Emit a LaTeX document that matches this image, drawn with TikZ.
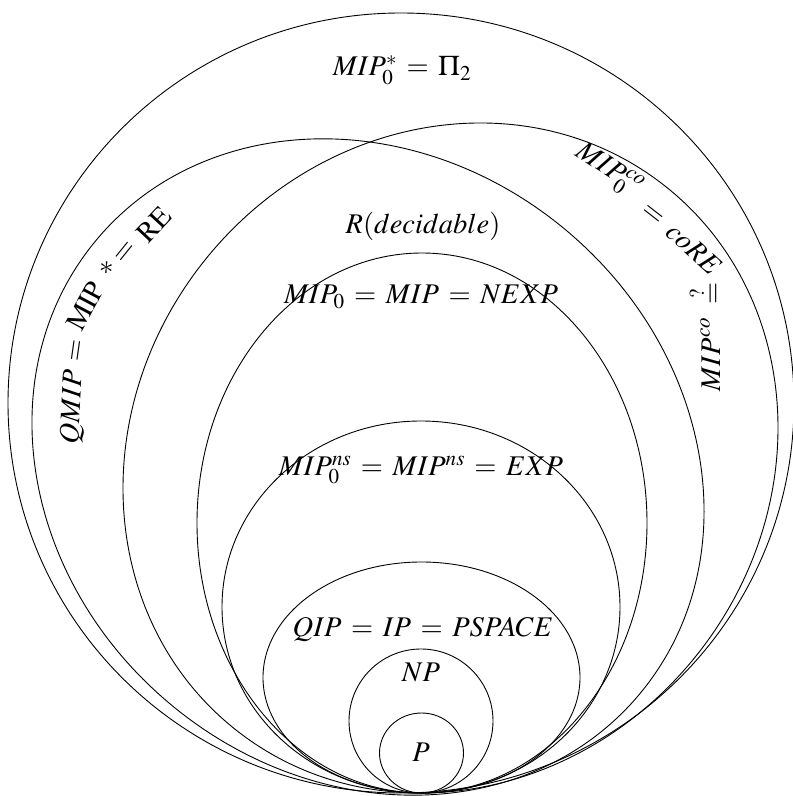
\documentclass[tikz,border=0pt]{standalone}
\usepackage{mathptmx}
\newcommand{\myeq}{\mathrel{\mskip\thinmuskip=\mskip\thinmuskip}}
\begin{document}
\begin{tikzpicture}[x=1pt,y=1pt,
  set/.style={draw=black, line width=0.9pt},
  lbl/.style={inner sep=0pt, font=\fontsize{28.5}{33}\selectfont}]
\useasboundingbox (0,0) rectangle (793,796);
% classes
\draw[set] (401,393) ellipse [x radius=393, y radius=390];
\draw[set, rotate around={-40:(368,329)}] (368,329) ellipse [x radius=354, y radius=308.7];
\draw[set, rotate around={52:(450.5,338)}] (450.5,338) ellipse [x radius=346.4, y radius=315.4];
\draw[set] (422,273) ellipse [x radius=225, y radius=270];
\draw[set] (421,189) ellipse [x radius=199, y radius=186];
\draw[set] (421.5,118.5) ellipse [x radius=158.5, y radius=115.5];
\draw[set] (421,75) circle [radius=72];
\draw[set] (421.5,43) ellipse [x radius=42, y radius=40];
% curved label of QMIP = MIP* = RE
\node[lbl, rotate=87] (q1) at (73,389) {$QMIP$};
\node[lbl, rotate=82] (q2) at (77.5,445) {$=$};
\node[lbl, rotate=62] (q3) at (85,490) {$\mathrm{MIP}$};
\node[lbl, rotate=55] (q4) at (107,528) {$\ast$};
\node[lbl, rotate=51] (q5) at (125.5,543) {$=$};
\node[lbl, rotate=47] (q6) at (153.5,571.5) {$\mathrm{RE}$};
% curved label of MIP0co = coRE
\node[lbl, rotate=-33] (c1) at (608,625) {$MIP_0^{co}$};
\node[lbl, rotate=-38] (c2) at (652,581) {$=$};
\node[lbl, rotate=-42] (c3) at (694,547) {$coRE$};
% labels
\node[lbl] (pi2) at (402,726) {$MIP_0^* \myeq \Pi_2$};
\node[lbl] (R) at (423,570) {$R(decidable)$};
\node[lbl] (nexp) at (421,499) {$MIP_0 \myeq MIP \myeq NEXP$};
\node[lbl] (exp) at (421,326) {$MIP_0^{ns} \myeq MIP^{ns} \myeq EXP$};
\node[lbl] (qip) at (423,166) {$QIP \myeq IP \myeq PSPACE$};
\node[lbl] (np) at (421,124) {$NP$};
\node[lbl] (p) at (421,44) {$P$};
\node[lbl, rotate=90, anchor=base] (mipco) at (720,459) {$MIP^{co}\;\stackrel{?}{=}$};
\end{tikzpicture}
\end{document}
